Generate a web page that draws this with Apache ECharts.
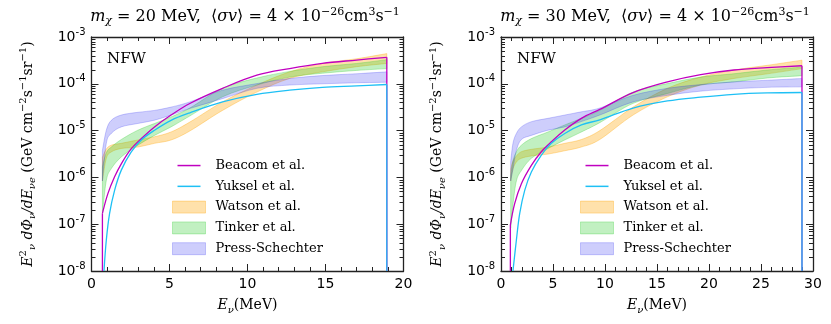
<!DOCTYPE html>
<html>
<head>
<meta charset="utf-8">
<script src="https://cdn.jsdelivr.net/npm/echarts@6/dist/echarts.min.js"></script>
<style>
  html, body { margin: 0; padding: 0; background: #fff; }
  #chart { width: 831px; height: 324px; }
</style>
</head>
<body>
<div id="chart"></div>
<script>
// axis range
const yMin = 1e-8, yMax = 1e-3;
const xTicks20 = [0, 5, 10, 15, 20];
const xTicks30 = [0, 5, 10, 15, 20, 25, 30];
const legendNames = ['Beacom et al.', 'Yuksel et al.', 'Watson et al.', 'Tinker et al.', 'Press-Schechter'];

// ---- m = 20 MeV ----
const beacomE20 = [0.7, 1.05, 1.48, 1.91, 2.55, 3.18, 4.04, 5.1, 6.3, 8.4, 10.6, 12.7, 14.8, 17.0, 18.93];
const beacomV20 = [1.7e-7, 4.5e-7, 1.03e-6, 1.95e-6, 4.1e-6, 6.7e-6, 1.2e-5, 2.15e-5, 3.8e-5, 8.0e-5, 1.53e-4, 2.12e-4, 2.74e-4, 3.22e-4, 3.68e-4];
const yukselE20 = [0.8, 0.95, 1.16, 1.48, 1.91, 2.55, 3.18, 4.04, 5.1, 6.3, 8.4, 10.6, 12.7, 14.8, 17.0, 18.93];
const yukselV20 = [1e-8, 4.6e-8, 1.7e-7, 5.3e-7, 1.43e-6, 3.5e-6, 6.25e-6, 1.02e-5, 1.66e-5, 2.4e-5, 4.1e-5, 5.95e-5, 7.3e-5, 8.4e-5, 9.0e-5, 9.65e-5];
const bandE20 = [0.7, 0.95, 1.27, 1.91, 2.97, 4.04, 5.1, 6.3, 8.4, 10.6, 12.7, 14.8, 17.0, 18.93];
const watsonLo20 = [8.4e-7, 2.55e-6, 3.5e-6, 4.15e-6, 4.45e-6, 5.35e-6, 6.3e-6, 9.8e-6, 2.7e-5, 6.65e-5, 1.3e-4, 1.8e-4, 2.32e-4, 2.72e-4];
const watsonHi20 = [2.67e-6, 4.05e-6, 4.88e-6, 5.35e-6, 6.3e-6, 7.4e-6, 9.35e-6, 1.52e-5, 4.1e-5, 9.4e-5, 1.8e-4, 2.72e-4, 3.43e-4, 4.42e-4];
const tinkerLo20 = [1.67e-7, 8.6e-7, 1.54e-6, 2.74e-6, 4.88e-6, 7.9e-6, 1.2e-5, 2.05e-5, 5.27e-5, 9.4e-5, 1.39e-4, 1.68e-4, 1.93e-4, 2.11e-4];
const tinkerHi20 = [1.68e-6, 3.37e-6, 4.45e-6, 6.45e-6, 1.02e-5, 1.42e-5, 1.96e-5, 3.04e-5, 8.0e-5, 1.33e-4, 1.84e-4, 2.32e-4, 2.72e-4, 3.28e-4];
const psLo20 = [8.4e-7, 5.35e-6, 8.7e-6, 1.2e-5, 1.42e-5, 1.67e-5, 2.15e-5, 2.96e-5, 4.82e-5, 8.0e-5, 9.4e-5, 1.0e-4, 1.05e-4, 1.08e-4];
const psHi20 = [3.78e-6, 1.02e-5, 1.66e-5, 2.15e-5, 2.46e-5, 2.7e-5, 3.18e-5, 4.1e-5, 7.3e-5, 1.01e-4, 1.3e-4, 1.5e-4, 1.64e-4, 1.8e-4];

// ---- m = 30 MeV ----
const beacomE30 = [0.9, 1.32, 1.96, 2.92, 3.88, 4.84, 6.13, 7.73, 9.5, 12.7, 16.0, 19.2, 22.4, 25.6, 28.94];
const beacomV30 = [9.6e-8, 2.78e-7, 7.35e-7, 1.81e-6, 3.54e-6, 5.75e-6, 1.03e-5, 1.83e-5, 2.84e-5, 6.5e-5, 1.1e-4, 1.57e-4, 1.97e-4, 2.21e-4, 2.43e-4];
const yukselE30 = [1.15, 1.48, 1.8, 2.28, 2.92, 3.88, 4.84, 6.13, 7.73, 9.5, 12.7, 16.0, 19.2, 22.4, 25.6, 28.94];
const yukselV30 = [1e-8, 4.6e-8, 1.7e-7, 5.3e-7, 1.31e-6, 3.0e-6, 5.35e-6, 8.7e-6, 1.32e-5, 1.7e-5, 3.04e-5, 4.3e-5, 5.18e-5, 5.95e-5, 6.37e-5, 6.52e-5];
const bandE30 = [0.93, 1.15, 1.48, 1.96, 2.92, 4.52, 6.13, 7.73, 9.5, 12.7, 16.0, 19.2, 22.4, 25.6, 28.94];
const watsonLo30 = [8.4e-7, 1.5e-6, 2.13e-6, 2.56e-6, 2.87e-6, 3.15e-6, 3.71e-6, 4.46e-6, 6.45e-6, 2.15e-5, 5.27e-5, 9.4e-5, 1.3e-4, 1.63e-4, 2.11e-4];
const watsonHi30 = [1.5e-6, 2.23e-6, 2.87e-6, 3.54e-6, 3.98e-6, 4.46e-6, 5.35e-6, 6.45e-6, 1.0e-5, 3.18e-5, 8.0e-5, 1.39e-4, 1.97e-4, 2.48e-4, 3.2e-4];
const tinkerLo30 = [8.3e-8, 2.64e-7, 8.4e-7, 1.4e-6, 2.56e-6, 4.15e-6, 6.3e-6, 9.35e-6, 1.48e-5, 3.82e-5, 6.2e-5, 9.4e-5, 1.1e-4, 1.33e-4, 1.49e-4];
const tinkerHi30 = [1.06e-6, 2.23e-6, 3.54e-6, 4.88e-6, 6.75e-6, 9.35e-6, 1.32e-5, 1.83e-5, 2.7e-5, 6.65e-5, 1.01e-4, 1.39e-4, 1.64e-4, 1.97e-4, 2.27e-4];
const psLo30 = [8.4e-7, 1.5e-6, 3.78e-6, 6.45e-6, 7.9e-6, 1.02e-5, 1.2e-5, 1.56e-5, 2.15e-5, 4.1e-5, 5.66e-5, 6.97e-5, 7.8e-5, 8.4e-5, 8.6e-5];
const psHi30 = [2.13e-6, 5.35e-6, 8.7e-6, 1.2e-5, 1.55e-5, 1.83e-5, 2.15e-5, 2.52e-5, 3.04e-5, 5.66e-5, 8.0e-5, 9.62e-5, 1.1e-4, 1.19e-4, 1.3e-4];

// minor tick mantissas for the log axes
const minorMantissa = [2, 3, 4, 5, 6, 7, 8, 9];
const decades = [-8, -7, -6, -5, -4];

// colours
const cBeacom = '#c000c0';
const cYuksel = '#1ec0f5';
const fWatson = 'rgba(255,165,0,0.33)';
const fTinker = 'rgba(50,205,50,0.3)';
const fPS = 'rgba(30,30,240,0.22)';

const serif = 'DejaVu Serif';
const sans = 'DejaVu Sans';
const axisColor = '#222';

function curve(name, E, V, color, xi, yi) {
  const n = E.length - 1;
  const base = { type: 'line', xAxisIndex: xi, yAxisIndex: yi, symbol: 'none', silent: true, z: 5,
    lineStyle: { color: color, width: 1.3 }, itemStyle: { color: color } };
  return [
    Object.assign({}, base, { name: name, smooth: 0.35, data: E.map((e, i) => [e, V[i]]) }),
    Object.assign({}, base, { name: name + ' rise', data: [[E[0], yMin], [E[0], V[0]]] }),
    Object.assign({}, base, { name: name + ' drop', data: [[E[n], V[n]], [E[n], yMin]] })
  ];
}

// cubic pieces through pixel points (rendering only)
function spline(pts) {
  let d = '';
  const t = 0.17;
  for (let i = 0; i < pts.length - 1; i++) {
    const p0 = pts[i - 1] || pts[i], p1 = pts[i], p2 = pts[i + 1], p3 = pts[i + 2] || pts[i + 1];
    const c1 = [p1[0] + (p2[0] - p0[0]) * t, p1[1] + (p2[1] - p0[1]) * t];
    const c2 = [p2[0] - (p3[0] - p1[0]) * t, p2[1] - (p3[1] - p1[1]) * t];
    d += ' C' + c1.join(',') + ' ' + c2.join(',') + ' ' + p2.join(',');
  }
  return d;
}

function band(name, E, lo, hi, fill, xi, yi, z) {
  return {
    type: 'custom', name: name, xAxisIndex: xi, yAxisIndex: yi, silent: true, z: z,
    itemStyle: { color: fill },
    data: [[E[0], lo[0]]],
    encode: { x: 0, y: 1 },
    renderItem: function (params, api) {
      const up = E.map((e, i) => api.coord([e, hi[i]]));
      const dn = E.map((e, i) => api.coord([e, lo[i]])).reverse();
      const d = 'M' + up[0].join(',') + spline(up) + ' L' + dn[0].join(',') + spline(dn) + ' Z';
      return { type: 'path', shape: { pathData: d }, style: { fill: fill, stroke: fill, lineWidth: 1 } };
    }
  };
}

const minorVals = [];
decades.forEach(d => minorMantissa.forEach(m => minorVals.push(m * Math.pow(10, d))));

function minorTicks(xi, yi) {
  return {
    type: 'custom', xAxisIndex: xi, yAxisIndex: yi, silent: true, z: 10, clip: false,
    data: minorVals.map(v => [1, v]),
    encode: { x: 0, y: 1 },
    renderItem: function (params, api) {
      const cs = params.coordSys;
      const y = Math.round(api.coord([api.value(0), api.value(1)])[1]) + 0.5;
      const st = { stroke: axisColor, lineWidth: 1 };
      return { type: 'group', children: [
        { type: 'line', shape: { x1: cs.x, y1: y, x2: cs.x + 4, y2: y }, style: st },
        { type: 'line', shape: { x1: cs.x + cs.width, y1: y, x2: cs.x + cs.width - 4, y2: y }, style: st }
      ] };
    }
  };
}

const lineIcon = 'path://M0,0M33,12M5,5.3L28,5.3L28,6.8L5,6.8Z';
const legendData = [
  { name: legendNames[0], icon: lineIcon, itemStyle: { color: cBeacom } },
  { name: legendNames[1], icon: lineIcon, itemStyle: { color: cYuksel } },
  { name: legendNames[2], icon: 'rect', itemStyle: { color: fWatson, borderColor: fWatson, borderWidth: 1 } },
  { name: legendNames[3], icon: 'rect', itemStyle: { color: fTinker, borderColor: fTinker, borderWidth: 1 } },
  { name: legendNames[4], icon: 'rect', itemStyle: { color: fPS, borderColor: fPS, borderWidth: 1 } }
];
function legendAt(left) {
  return { left: left, top: 159, padding: 0, orient: 'vertical', itemWidth: 33, itemHeight: 12, itemGap: 7.8,
    selectedMode: false, textStyle: { fontFamily: serif, fontSize: 13, color: '#000', padding: [0, 0, 0, 5] },
    data: legendData };
}

const nameRich = {
  n: { fontFamily: serif, fontSize: 14, color: '#000' },
  i: { fontFamily: serif, fontSize: 14, fontStyle: 'italic', color: '#000' },
  sub: { fontFamily: serif, fontSize: 10, fontStyle: 'italic', color: '#000', padding: [9, 0, 0, 0] },
  sup: { fontFamily: serif, fontSize: 10, color: '#000', padding: [0, 0, 9, 0] }
};
const yName = '{i|E}{sup|2}{sub|ν}{i| dΦ}{sub|ν}{i|/dE}{sub|νe}{n| (GeV cm}{sup|−2}{n|s}{sup|−1}{n|sr}{sup|−1}{n|)}';
const xName = '{i|E}{sub|ν}{n|(MeV)}';

function xAxes(grid, max) {
  const common = { type: 'value', gridIndex: grid, min: 0, max: max, interval: 5,
    axisLine: { show: true, onZero: false, lineStyle: { color: axisColor, width: 1.3 } },
    axisTick: { show: true, inside: true, length: 7, lineStyle: { color: axisColor } },
    minorTick: { show: true, splitNumber: 5, length: 4, lineStyle: { color: axisColor } },
    splitLine: { show: false } };
  return [
    Object.assign({}, common, { position: 'bottom',
      axisLabel: { fontFamily: sans, fontSize: 14, color: '#000', margin: 6 },
      name: xName, nameLocation: 'middle', nameGap: 25, nameTextStyle: { rich: nameRich } }),
    Object.assign({}, common, { position: 'top', axisLabel: { show: false } })
  ];
}
function yAxes(grid) {
  const common = { type: 'log', logBase: 10, gridIndex: grid, min: yMin, max: yMax, splitNumber: 5,
    axisLine: { show: true, onZero: false, lineStyle: { color: axisColor, width: 1.3 } },
    axisTick: { show: true, inside: true, length: 7, lineStyle: { color: axisColor } },
    splitLine: { show: false } };
  return [
    Object.assign({}, common, { position: 'left',
      axisLabel: { margin: 6, formatter: v => '{b|10}{s|' + Math.round(Math.log10(v)) + '}',
        rich: { b: { fontFamily: sans, fontSize: 14, color: '#000' },
                s: { fontFamily: sans, fontSize: 10, color: '#000', padding: [0, 0, 10, 0] } } },
      name: yName, nameLocation: 'middle', nameRotate: 90, nameGap: 54, nameTextStyle: { rich: nameRich } }),
    Object.assign({}, common, { position: 'right', axisLabel: { show: false } })
  ];
}

const titleRich = {
  n: { fontFamily: serif, fontSize: 16, fill: '#000' },
  i: { fontFamily: serif, fontSize: 16, fontStyle: 'italic', fill: '#000' },
  sub: { fontFamily: serif, fontSize: 11, fontStyle: 'italic', fill: '#000', padding: [9, 0, 0, 0] },
  sup: { fontFamily: serif, fontSize: 11, fill: '#000', padding: [0, 0, 10, 0] }
};
function titleText(m) {
  return '{i|m}{sub|χ}{n| = ' + m + ' MeV,  ⟨}{i|σv}{n|⟩ = 4 × 10}{sup|−26}{n|cm}{sup|3}{n|s}{sup|−1}';
}

const series = [].concat(
  [band(legendNames[2], bandE20, watsonLo20, watsonHi20, fWatson, 0, 0, 1),
   band(legendNames[3], bandE20, tinkerLo20, tinkerHi20, fTinker, 0, 0, 2),
   band(legendNames[4], bandE20, psLo20, psHi20, fPS, 0, 0, 3)],
  curve(legendNames[0], beacomE20, beacomV20, cBeacom, 0, 0),
  curve(legendNames[1], yukselE20, yukselV20, cYuksel, 0, 0),
  [minorTicks(0, 0)],
  [band(legendNames[2], bandE30, watsonLo30, watsonHi30, fWatson, 2, 2, 1),
   band(legendNames[3], bandE30, tinkerLo30, tinkerHi30, fTinker, 2, 2, 2),
   band(legendNames[4], bandE30, psLo30, psHi30, fPS, 2, 2, 3)],
  curve(legendNames[0], beacomE30, beacomV30, cBeacom, 2, 2),
  curve(legendNames[1], yukselE30, yukselV30, cYuksel, 2, 2),
  [minorTicks(2, 2)]
);

const chart = echarts.init(document.getElementById('chart'), null, { renderer: 'canvas' });
chart.setOption({
  animation: false,
  backgroundColor: '#fff',
  grid: [
    { left: 91.5, top: 37, width: 312, height: 234 },
    { left: 501, top: 37, width: 312, height: 234 }
  ],
  xAxis: [].concat(xAxes(0, xTicks20[xTicks20.length - 1]), xAxes(1, xTicks30[xTicks30.length - 1])),
  yAxis: [].concat(yAxes(0), yAxes(1)),
  legend: [legendAt(172), legendAt(580)],
  graphic: [
    { type: 'text', x: 245, y: 17, style: { text: titleText(20), rich: titleRich, align: 'center', verticalAlign: 'middle' } },
    { type: 'text', x: 655, y: 17, style: { text: titleText(30), rich: titleRich, align: 'center', verticalAlign: 'middle' } },
    { type: 'text', x: 107, y: 59, style: { text: 'NFW', fontFamily: serif, fontSize: 15, fill: '#000', verticalAlign: 'middle' } },
    { type: 'text', x: 517, y: 59, style: { text: 'NFW', fontFamily: serif, fontSize: 15, fill: '#000', verticalAlign: 'middle' } }
  ],
  series: series
});
</script>
</body>
</html>
